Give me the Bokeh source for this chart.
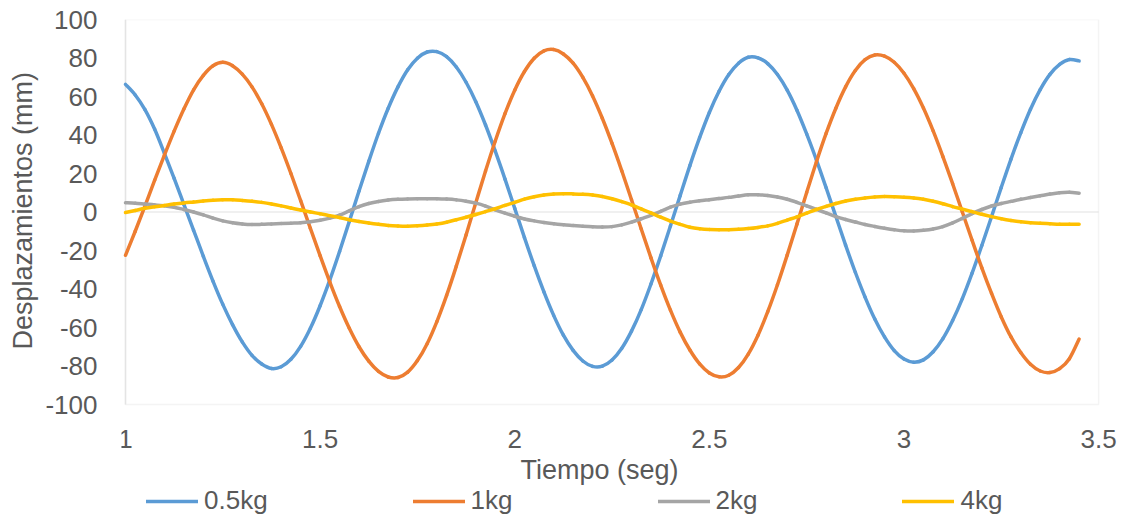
import numpy as np
from bokeh.plotting import figure
from bokeh.models import Range1d, FixedTicker, BoxAnnotation, Legend, LegendItem, Title
from bokeh.core.properties import value
from bokeh.embed import file_html
from bokeh.resources import INLINE

# Time (s)
tiempo = [1.000, 1.025, 1.050, 1.075, 1.100, 1.125, 1.150, 1.175, 1.200, 1.225,
          1.250, 1.275, 1.300, 1.325, 1.350, 1.375, 1.400, 1.425, 1.450, 1.475,
          1.500, 1.525, 1.550, 1.575, 1.600, 1.625, 1.650, 1.675, 1.700, 1.725,
          1.750, 1.775, 1.800, 1.825, 1.850, 1.875, 1.900, 1.925, 1.950, 1.975,
          2.000, 2.025, 2.050, 2.075, 2.100, 2.125, 2.150, 2.175, 2.200, 2.225,
          2.250, 2.275, 2.300, 2.325, 2.350, 2.375, 2.400, 2.425, 2.450, 2.475,
          2.500, 2.525, 2.550, 2.575, 2.600, 2.625, 2.650, 2.675, 2.700, 2.725,
          2.750, 2.775, 2.800, 2.825, 2.850, 2.875, 2.900, 2.925, 2.950, 2.975,
          3.000, 3.025, 3.050, 3.075, 3.100, 3.125, 3.150, 3.175, 3.200, 3.225,
          3.250, 3.275, 3.300, 3.325, 3.350, 3.375, 3.400, 3.425, 3.450]

# Displacements (mm)
d_05kg = [66.3, 60.8, 53.2, 43.0, 30.5, 17.5, 4.0, -9.5, -23.0, -36.0,
          -48.0, -58.5, -67.5, -74.5, -79.0, -81.3, -80.4, -76.5, -69.8, -60.4,
          -48.7, -35.3, -20.5, -4.9, 10.9, 26.3, 40.9, 53.9, 65.0, 73.9,
          79.9, 83.1, 83.3, 80.7, 75.3, 67.4, 57.3, 45.2, 31.6, 17.1,
          1.9, -13.3, -27.9, -41.5, -53.7, -64.0, -71.9, -77.4, -80.2, -80.1,
          -76.9, -70.8, -61.9, -50.7, -37.4, -22.8, -7.3, 8.5, 24.1, 38.6,
          51.7, 62.7, 71.4, 77.3, 80.4, 80.1, 77.1, 71.4, 63.3, 52.9,
          40.6, 27.1, 12.6, -2.3, -17.2, -31.3, -44.2, -55.6, -64.9, -72.0,
          -76.4, -78.0, -76.8, -72.6, -65.8, -56.4, -45.0, -31.8, -17.4, -2.4,
          12.8, 27.5, 41.1, 53.4, 63.6, 71.5, 76.7, 79.2, 78.5]

d_1kg = [-22.5, -10.0, 3.0, 16.5, 29.5, 42.0, 53.5, 63.5, 71.0, 76.0,
         77.8, 76.0, 71.6, 65.0, 56.2, 45.5, 33.3, 20.0, 5.9, -8.5,
         -22.7, -36.4, -49.1, -60.4, -70.0, -77.5, -82.8, -85.7, -86.0, -83.2,
         -77.2, -68.4, -56.9, -43.3, -28.1, -11.9, 4.8, 21.3, 36.9, 51.1,
         63.3, 73.0, 79.9, 83.7, 84.4, 82.1, 77.3, 69.9, 60.3, 48.7,
         35.6, 21.4, 6.4, -8.8, -23.8, -38.0, -51.0, -62.4, -71.7, -78.9,
         -83.6, -85.6, -84.8, -80.8, -73.8, -64.0, -51.8, -37.8, -22.4, -6.3,
         10.1, 26.0, 40.8, 53.9, 65.0, 73.5, 79.1, 81.6, 81.0, 77.8,
         72.1, 64.1, 54.0, 42.1, 28.8, 14.7, 0.0, -14.7, -29.0, -42.3,
         -54.5, -64.9, -73.0, -79.1, -82.6, -83.4, -81.4, -76.2, -66.0]

d_2kg = [4.8, 4.5, 4.1, 3.7, 3.2, 2.5, 1.3, 0.0, -1.5, -3.2,
         -4.6, -5.6, -6.2, -6.5, -6.4, -6.2, -6.0, -5.8, -5.6, -5.1,
         -4.3, -3.2, -1.6, 0.6, 2.8, 4.4, 5.5, 6.2, 6.6, 6.8,
         6.9, 6.9, 6.9, 6.7, 6.3, 5.6, 4.6, 3.1, 1.1, -0.6,
         -2.2, -3.6, -4.6, -5.4, -6.1, -6.6, -7.0, -7.4, -7.7, -7.8,
         -7.6, -6.7, -5.3, -3.5, -1.7, 0.3, 2.5, 4.1, 5.1, 5.8,
         6.4, 7.0, 7.6, 8.3, 8.9, 9.0, 8.6, 7.8, 6.6, 5.0,
         3.2, 1.4, -0.5, -2.4, -3.9, -5.2, -6.5, -7.5, -8.4, -9.2,
         -9.8, -9.9, -9.5, -8.8, -7.6, -5.7, -3.3, -0.8, 1.3, 3.1,
         4.4, 5.5, 6.6, 7.5, 8.4, 9.3, 10.0, 10.2, 9.8]

d_4kg = [-0.3, 0.8, 1.9, 2.7, 3.4, 4.1, 4.7, 5.2, 5.7, 6.1,
         6.3, 6.3, 6.0, 5.6, 5.0, 4.2, 3.2, 2.1, 1.0, 0.0,
         -0.9, -1.9, -2.9, -4.0, -4.9, -5.7, -6.4, -7.0, -7.3, -7.4,
         -7.2, -6.8, -6.2, -5.3, -4.0, -2.7, -1.3, 0.2, 1.7, 3.4,
         5.0, 6.7, 7.9, 8.8, 9.3, 9.5, 9.4, 9.2, 8.8, 8.1,
         6.9, 5.4, 3.7, 1.6, -0.5, -2.7, -4.7, -6.4, -7.9, -8.7,
         -9.1, -9.2, -9.2, -9.0, -8.6, -8.0, -7.2, -5.9, -4.2, -2.5,
         -0.6, 1.3, 2.9, 4.4, 5.7, 6.6, 7.3, 7.8, 8.0, 7.9,
         7.7, 7.3, 6.6, 5.6, 4.3, 2.8, 1.5, 0.2, -1.2, -2.4,
         -3.5, -4.4, -5.1, -5.6, -5.9, -6.1, -6.3, -6.4, -6.4]

series_names = ["0.5kg", "1kg", "2kg", "4kg"]
series_colors = ["#5B9BD5", "#ED7D31", "#A5A5A5", "#FFC000"]

x_ticks = [1, 1.5, 2, 2.5, 3, 3.5]
x_tick_labels = ["1", "1.5", "2", "2.5", "3", "3.5"]
y_ticks = [-100, -80, -60, -40, -20, 0, 20, 40, 60, 80, 100]
y_tick_labels = ["-100", "-80", "-60", "-40", "-20", "0", "20", "40", "60", "80", "100"]

X_MIN, X_MAX = 1.0, 3.5
Y_MIN, Y_MAX = -100, 100

FONT = "Liberation Sans"
TXT = "#595959"

# Frame spans 118..1128 horizontally and 19..520 vertically; the data box
# (1..3.5, -100..100) occupies 122..1098 x 19..404 as in the reference.
FRAME_LEFT = 118
px_per_x = 976 / (X_MAX - X_MIN)
px_per_y = 385 / (Y_MAX - Y_MIN)
x_start = X_MIN - (122 - FRAME_LEFT) / px_per_x
x_end = X_MIN + (1128 - 122) / px_per_x
y_start = Y_MAX - 501 / px_per_y

p = figure(width=1128, height=520, output_backend="svg", toolbar_location=None,
           x_range=Range1d(x_start, x_end), y_range=Range1d(y_start, Y_MAX),
           x_axis_location=None,
           min_border_left=FRAME_LEFT, min_border_right=0, min_border_top=19,
           min_border_bottom=0)
p.background_fill_color = "white"
p.border_fill_color = "white"
p.outline_line_color = None
p.grid.visible = False

# plot-area border, vertical axis line and the zero line of the horizontal axis
p.add_layout(BoxAnnotation(left=X_MIN, right=X_MAX, bottom=Y_MIN, top=Y_MAX,
                           fill_alpha=0, line_color="#D9D9D9", line_width=1.5,
                           level="underlay"))
p.add_layout(BoxAnnotation(left=X_MIN, right=X_MIN, bottom=Y_MIN, top=Y_MAX,
                           fill_alpha=0, line_color="#BFBFBF", line_width=1.5,
                           level="underlay"))
p.add_layout(BoxAnnotation(left=X_MIN, right=X_MAX, bottom=0, top=0,
                           fill_alpha=0, line_color="#BFBFBF", line_width=1.5,
                           level="underlay"))


def smooth_segments(xs, ys):
    """Catmull-Rom style control points (like a spreadsheet's smoothed line)."""
    x = np.asarray(xs, float)
    y = np.asarray(ys, float)
    xp = np.concatenate([[x[0]], x, [x[-1]]])
    yp = np.concatenate([[y[0]], y, [y[-1]]])
    n = len(x) - 1
    x0, y0 = x[:-1], y[:-1]
    x1, y1 = x[1:], y[1:]
    cx0 = x0 + (xp[2:n + 2] - xp[0:n]) / 6.0
    cy0 = y0 + (yp[2:n + 2] - yp[0:n]) / 6.0
    cx1 = x1 - (xp[3:n + 3] - xp[1:n + 1]) / 6.0
    cy1 = y1 - (yp[3:n + 3] - yp[1:n + 1]) / 6.0
    return dict(x0=x0, y0=y0, x1=x1, y1=y1, cx0=cx0, cy0=cy0, cx1=cx1, cy1=cy1)


renderers = []
for ys, name, col in zip([d_05kg, d_1kg, d_2kg, d_4kg], series_names, series_colors):
    seg = smooth_segments(tiempo, ys)
    r = p.bezier(line_color=col, line_width=3.5, line_cap="round", **seg)
    renderers.append(r)

# x tick labels and x title (drawn below the data box)
p.text(x=x_ticks, y=[Y_MIN] * len(x_ticks), text=x_tick_labels,
       y_offset=34, text_align="center", text_baseline="middle",
       text_font=value(FONT), text_font_size="26px", text_color=TXT)
p.text(x=[2.218], y=[Y_MIN], text=["Tiempo (seg)"],
       y_offset=65, text_align="center", text_baseline="middle",
       text_font=value(FONT), text_font_size="27px", text_color=TXT)

# y axis (tick labels)
ya = p.yaxis[0]
ya.bounds = (Y_MIN, Y_MAX)
ya.ticker = FixedTicker(ticks=y_ticks)
ya.major_label_overrides = {t: l for t, l in zip(y_ticks, y_tick_labels)}
ya.axis_line_color = None
ya.major_tick_line_color = None
ya.minor_tick_line_color = None
ya.major_label_standoff = 22 - (122 - FRAME_LEFT)
ya.major_label_text_font = FONT
ya.major_label_text_font_size = "26px"
ya.major_label_text_color = TXT

# y title, centred on the data box (starts 171 px above the frame bottom)
p.add_layout(Title(text="Desplazamientos (mm)", align="left", offset=171,
                   standoff=10, text_font=FONT, text_font_size="27px",
                   text_font_style="normal", text_color=TXT), "left")

legend = Legend(items=[LegendItem(label=n, renderers=[r]) for n, r in zip(series_names, renderers)],
                orientation="horizontal", location=(21 + 122 - FRAME_LEFT, 4), spacing=145,
                padding=0, margin=0, glyph_width=52, glyph_height=28,
                label_standoff=6, label_text_font=FONT, label_text_font_size="26px",
                label_text_color=TXT, border_line_color=None,
                background_fill_alpha=0)
p.add_layout(legend, "center")

open("out.html", "w").write(file_html(p, INLINE))
